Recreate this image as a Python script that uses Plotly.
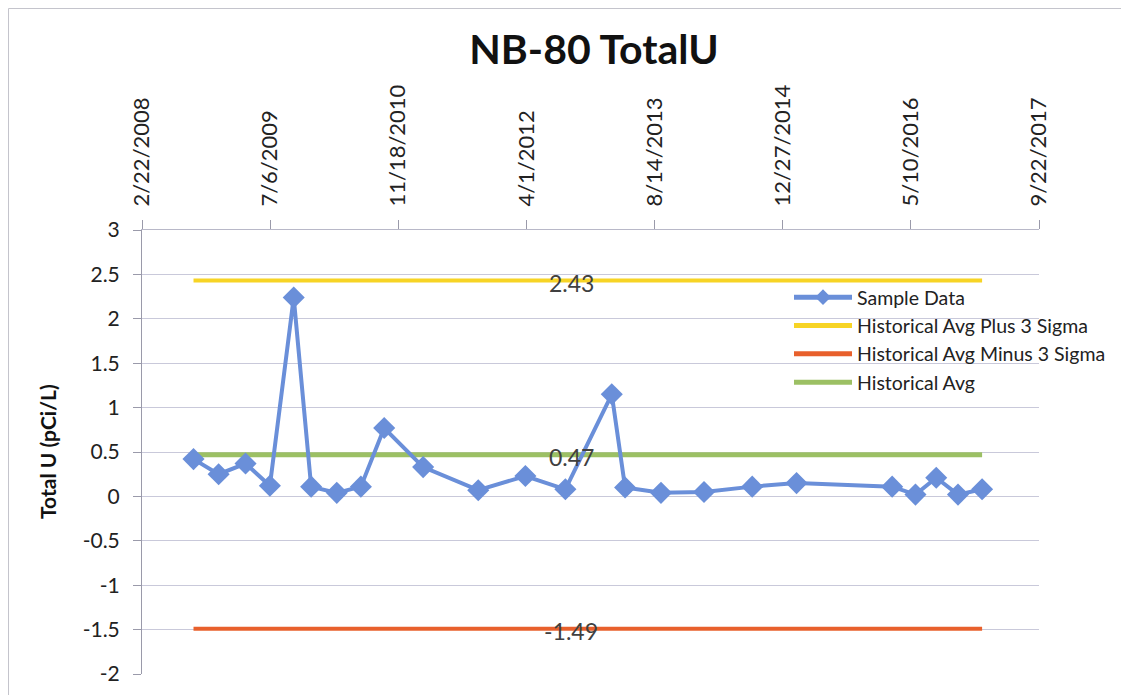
import plotly.graph_objects as go

# ---- data ----
sample_dates = [
    "2008-09-10", "2008-12-17", "2009-04-01", "2009-07-05", "2009-10-06",
    "2009-12-13", "2010-03-23", "2010-06-25", "2010-09-24", "2011-02-23",
    "2011-09-26", "2012-03-28", "2012-08-31", "2013-02-28", "2013-04-21",
    "2013-09-08", "2014-02-23", "2014-08-30", "2015-02-19", "2016-02-27",
    "2016-05-28", "2016-08-17", "2016-11-10", "2017-02-12",
]
sample_values = [
    0.42, 0.25, 0.37, 0.12, 2.24,
    0.11, 0.04, 0.11, 0.77, 0.33,
    0.07, 0.23, 0.08, 1.15, 0.10,
    0.04, 0.05, 0.11, 0.15, 0.11,
    0.02, 0.21, 0.02, 0.08,
]
hist_avg = 0.47
hist_plus3 = 2.43
hist_minus3 = -1.49
label_index = 12

x_tickvals = ["2008-02-22", "2009-07-06", "2010-11-18", "2012-04-01",
              "2013-08-14", "2014-12-27", "2016-05-10", "2017-09-22"]
x_ticktext = ["2/22/2008", "7/6/2009", "11/18/2010", "4/1/2012",
              "8/14/2013", "12/27/2014", "5/10/2016", "9/22/2017"]
y_tickvals = [3, 2.5, 2, 1.5, 1, 0.5, 0, -0.5, -1, -1.5, -2]
y_ticktext = ["3", "2.5", "2", "1.5", "1", "0.5", "0", "-0.5", "-1", "-1.5", "-2"]

FONT = "Lato"
BLUE = "#6a8fd9"
YELLOW = "#f7d425"
ORANGE = "#e8602c"
GREEN = "#9cc064"
LABEL_COLOR = "#404040"


def const_series(v):
    return [v] * len(sample_dates)


fig = go.Figure()

fig.add_trace(go.Scatter(
    x=sample_dates, y=const_series(hist_plus3), name="Historical Avg Plus 3 Sigma",
    mode="lines", line=dict(color=YELLOW, width=4), legendrank=2,
))
fig.add_trace(go.Scatter(
    x=sample_dates, y=const_series(hist_minus3), name="Historical Avg Minus 3 Sigma",
    mode="lines", line=dict(color=ORANGE, width=4), legendrank=3,
))
fig.add_trace(go.Scatter(
    x=sample_dates, y=const_series(hist_avg), name="Historical Avg",
    mode="lines", line=dict(color=GREEN, width=5), legendrank=4,
))
fig.add_trace(go.Scatter(
    x=sample_dates, y=sample_values, name="Sample Data",
    mode="lines+markers", line=dict(color=BLUE, width=4),
    marker=dict(symbol="diamond", size=17, color=BLUE),
    legendrank=1,
))

annotations = [dict(
    text="<b>Total U (pCi/L)</b>", xref="paper", yref="paper",
    x=-0.1059, y=0.5, xanchor="center", yanchor="middle", textangle=-90,
    showarrow=False, font=dict(family=FONT, size=21, color="#111111"),
)]
for v in (hist_plus3, hist_avg, hist_minus3):
    annotations.append(dict(
        text=f"{v:.2f}", x=sample_dates[label_index], y=v, xref="x", yref="y",
        xanchor="center", yanchor="middle", xshift=6, yshift=-2, showarrow=False,
        font=dict(family=FONT, size=23, color=LABEL_COLOR),
    ))

fig.update_layout(
    width=1121, height=687,
    paper_bgcolor="white", plot_bgcolor="white",
    margin=dict(l=134, r=90, t=222, b=21, autoexpand=False),
    font=dict(family=FONT, size=18, color="#222222"),
    title=dict(text="<b>NB-80 TotalU</b>", x=0.5227, xanchor="center",
               y=0.940, yanchor="middle",
               font=dict(family=FONT, size=41, color="#111111")),
    showlegend=True,
    legend=dict(x=0.7213, y=0.892, xanchor="left", yanchor="top",
                bgcolor="rgba(0,0,0,0)", font=dict(family=FONT, size=19.5, color="#222222"),
                itemsizing="constant", itemwidth=58, tracegroupgap=0),
    xaxis=dict(
        type="date", range=["2008-02-22", "2017-09-22"], side="top",
        tickvals=x_tickvals, ticktext=x_ticktext, tickangle=-90,
        ticks="outside", ticklen=9, tickcolor="#9a9aaa", automargin=False,
        ticklabelstandoff=9,
        showgrid=False, showline=True, linecolor="#b8b8c8", linewidth=1,
        zeroline=False, tickfont=dict(family=FONT, size=22, color="#222222"),
    ),
    yaxis=dict(
        range=[-2, 3], tickvals=y_tickvals, ticktext=y_ticktext,
        ticks="outside", ticklen=8, automargin=False, ticklabelstandoff=9,
        tickcolor="#9a9aaa", showgrid=True, gridcolor="#c9c9da", gridwidth=1,
        showline=True, linecolor="#9a9aaa", linewidth=1, zeroline=False,
        tickfont=dict(family=FONT, size=21, color="#222222"),
    ),
    annotations=annotations,
)

# outer frame (top and left edges visible in the reference)
fig.add_shape(type="line", xref="paper", yref="paper",
              x0=-0.1488, x1=1.1, y0=1.4989, y1=1.4989, line=dict(color="#c4c4cc", width=1))
fig.add_shape(type="line", xref="paper", yref="paper",
              x0=-0.1488, x1=-0.1488, y0=1.4989, y1=-0.05, line=dict(color="#c4c4cc", width=1))

fig.write_html("out.html")
